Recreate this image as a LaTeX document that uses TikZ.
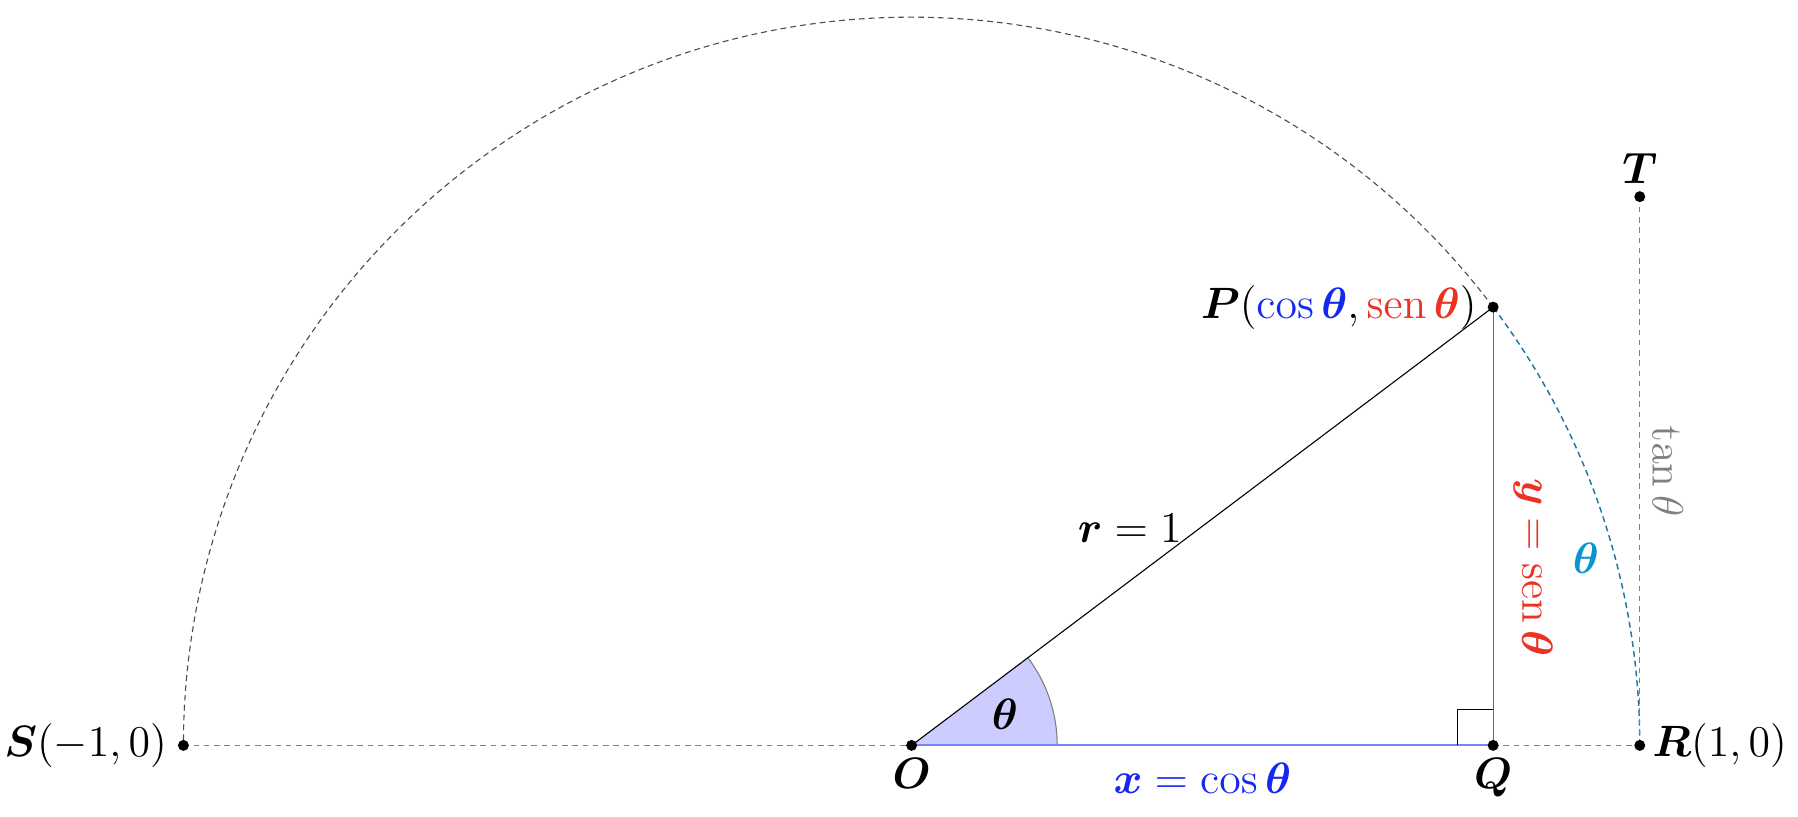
\documentclass[tikz,border=0pt]{standalone}
\usepackage{amsmath}
\usepackage{amssymb}
\usepackage{bm}
\usepackage{tikz}
\DeclareMathOperator{\sen}{sen}
\definecolor{cosblue}{RGB}{20,40,240}
\definecolor{senred}{RGB}{235,50,35}
\definecolor{arcteal}{RGB}{30,120,160}
\definecolor{arccyan}{RGB}{10,150,210}

\begin{document}
\begin{tikzpicture}[x=7cm, y=7cm, font=\large,
  guide/.style={gray, dash pattern=on 1.5pt off 1.3pt, line width=0.35pt},
  fine/.style={dash pattern=on 1.6pt off 1.1pt, line width=0.3pt}]
\useasboundingbox (-1.2519,-0.0970) rectangle (1.2173,1.0236);
\coordinate (O) at (0,0);
\coordinate (R) at (1,0);
\coordinate (S) at (-1,0);
\coordinate (P) at (37:1);
\coordinate (Q) at ({cos(37)},0);
\coordinate (T) at (1,{tan(37)});
% unit circle, upper half
\draw[fine, black!70] (P) arc (37:180:1);
\draw[fine, arcteal, line width=0.4pt] (R) arc (0:37:1);
\node[arccyan] (arclabel) at (15.5:0.961) {$\bm\theta$};
% axis
\draw[guide] (S) -- (O);
\draw[guide] (Q) -- (R);
\draw[guide] (T) -- (R) node[midway, rotate=-90, anchor=south, gray] (tanlabel) {$\tan\theta$};
% angle
\fill[blue!20] (O) -- (0.2,0) arc (0:37:0.2) -- cycle;
\draw[gray, line width=0.3pt] (0.2,0) arc (0:37:0.2);
\node (anglelabel) at (18.5:0.135) {$\bm\theta$};
% triangle
\draw[line width=0.3pt] (O) -- (P) node[pos=0.375, above=7pt] (rlabel) {$\bm r = 1$};
\draw[senred, line width=0.3pt] (P) -- (Q) node[pos=0.594, rotate=-90, anchor=south, inner ysep=5.5pt, senred] (ylabel) {$\bm y = \sen\bm\theta$};
\draw[blue!50, line width=0.5pt] (O) -- (Q) node[midway, below=1.3pt, cosblue] (xlabel) {$\bm x = \cos\bm\theta$};
\draw[line width=0.3pt] (Q) ++(-0.049,0) -- ++(0,0.049) -- ++(0.049,0);
% points
\foreach \p in {O,P,Q,R,S,T}
  \fill (\p) circle (1.5pt);
\node[left=1pt] (Slabel) at (S) {$\bm S(-1,0)$};
\node[right] (Rlabel) at (R) {$\bm R(1,0)$};
\node[below] (Olabel) at (O) {$\bm O$};
\node[below] (Qlabel) at (Q) {$\bm Q$};
\node[above] (Tlabel) at (T) {$\bm T$};
\node[left=1pt] (Plabel) at (P) {$\bm P(\textcolor{cosblue}{\cos\bm\theta}, \textcolor{senred}{\sen\bm\theta})$};
\end{tikzpicture}
\end{document}
